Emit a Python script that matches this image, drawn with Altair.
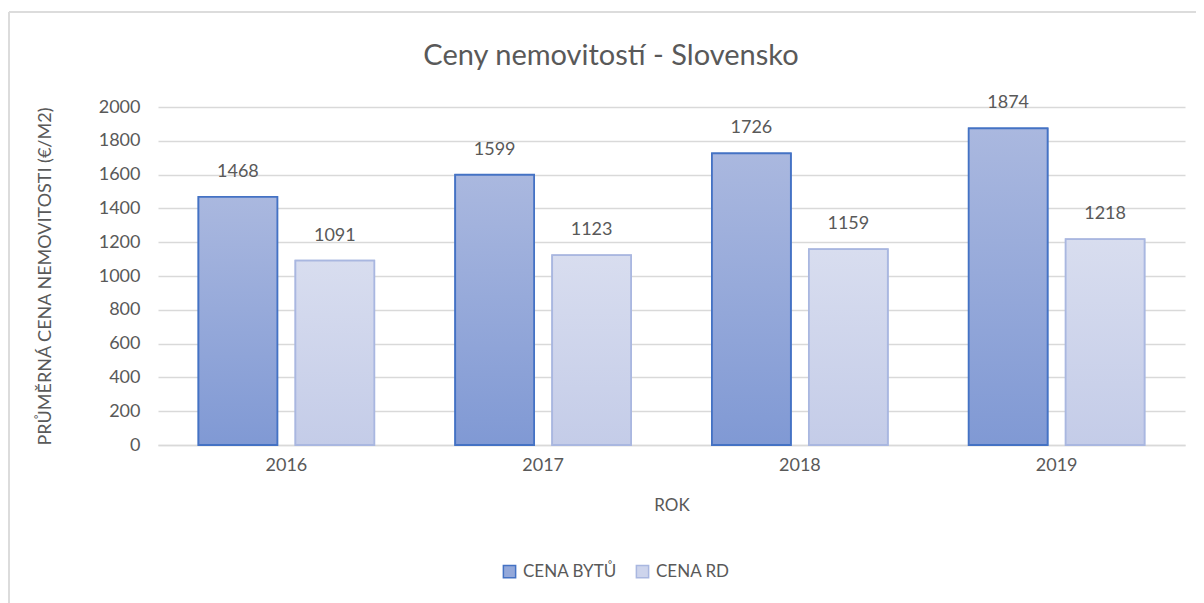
import altair as alt
import pandas as pd

years = ["2016", "2017", "2018", "2019"]
series = ["CENA BYTŮ", "CENA RD"]
cena_bytu = [1468, 1599, 1726, 1874]
cena_rd = [1091, 1123, 1159, 1218]
title_text = "Ceny nemovitostí - Slovensko"

rows = []
for i, y in enumerate(years):
    rows.append({"rok": y, "serie": series[0], "cena": cena_bytu[i]})
    rows.append({"rok": y, "serie": series[1], "cena": cena_rd[i]})
df = pd.DataFrame(rows)

FONT = "Lato"
GREY = "#595959"

x_enc = alt.X("rok:N", title="ROK",
              scale=alt.Scale(paddingInner=0.315, paddingOuter=0.1575),
              axis=alt.Axis(labelAngle=0, ticks=False, domain=True, domainColor="#D9D9D9",
                            domainWidth=1.5, labelPadding=11, labelFontSize=18,
                            labelFont=FONT, titleFont=FONT, labelColor=GREY, titleColor=GREY,
                            titleY=60, titleBaseline="middle", titleFontSize=17,
                            titleFontWeight="normal", grid=False))
xo_enc = alt.XOffset("serie:N", scale=alt.Scale(domain=series, paddingInner=0.186, paddingOuter=0))
y_enc = alt.Y("cena:Q", title="PRŮMĚRNÁ CENA NEMOVITOSTI (€/M2)",
              scale=alt.Scale(domain=[0, 2000], nice=False),
              axis=alt.Axis(values=list(range(0, 2001, 200)), format="d", ticks=False, domain=False,
                            gridColor="#D9D9D9", gridWidth=1.5, labelPadding=18,
                            labelFont=FONT, titleFont=FONT, labelColor=GREY, titleColor=GREY,
                            labelFontSize=18, titleX=-113, titleY=169, titleAngle=270,
                            titleAlign="center", titleBaseline="middle", titleFontSize=18,
                            titleFontWeight="normal"))

base = alt.Chart(df)

leg = dict(title=None, orient="none", legendX=343, legendY=456,
           direction="horizontal", symbolType="square",
           symbolSize=150, labelFontSize=17, labelColor=GREY,
           labelFont=FONT, columnPadding=16, labelOffset=5,
           symbolStrokeWidth=1.5)

legend_bars = base.mark_bar(strokeWidth=1.5).encode(
    x=x_enc, xOffset=xo_enc, y=y_enc,
    color=alt.Color("serie:N", scale=alt.Scale(domain=series, range=["#93A8DA", "#CDD4EC"]),
                    legend=alt.Legend(**leg)),
    stroke=alt.Stroke("serie:N", scale=alt.Scale(domain=series, range=["#4472C4", "#A9B7E0"]),
                      legend=alt.Legend(**leg)),
)

grad_bytu = alt.Gradient(gradient="linear", x1=0, x2=0, y1=0, y2=1,
                         stops=[alt.GradientStop(offset=0, color="#AAB8DF"),
                                alt.GradientStop(offset=1, color="#8099D4")])
grad_rd = alt.Gradient(gradient="linear", x1=0, x2=0, y1=0, y2=1,
                       stops=[alt.GradientStop(offset=0, color="#D8DDEF"),
                              alt.GradientStop(offset=1, color="#C4CCE8")])

bars_bytu = base.transform_filter(alt.datum.serie == series[0]).mark_bar(
    fill=grad_bytu, stroke="#4472C4", strokeWidth=1.8).encode(
    x=x_enc, xOffset=xo_enc, y=y_enc)
bars_rd = base.transform_filter(alt.datum.serie == series[1]).mark_bar(
    fill=grad_rd, stroke="#A9B7E0", strokeWidth=1.8).encode(
    x=x_enc, xOffset=xo_enc, y=y_enc)

labels = base.mark_text(dy=-16, fontSize=18, color=GREY, font=FONT, baseline="bottom").encode(
    x=x_enc, xOffset=xo_enc, y=y_enc, text=alt.Text("cena:Q", format="d"))

one = alt.Data(values=[{"a": 1}])
frame_left = alt.Chart(one).mark_rule(color="#DCDCDC", strokeWidth=2).encode(
    x=alt.value(-149), y=alt.value(-95), y2=alt.value(600))
frame_top = alt.Chart(one).mark_rule(color="#DCDCDC", strokeWidth=2).encode(
    x=alt.value(-149), x2=alt.value(1100), y=alt.value(-95))
title_mark = alt.Chart(alt.Data(values=[{"t": title_text}])).mark_text(
    fontSize=29, font=FONT, color=GREY, align="center", baseline="middle").encode(
    x=alt.value(453), y=alt.value(-51), text="t:N")

chart = alt.layer(frame_left, frame_top, title_mark, legend_bars, bars_bytu, bars_rd, labels).properties(
    width=1027, height=338,
    background="white",
    autosize=alt.AutoSizeParams(type="none"),
    padding={"left": 150, "top": 99, "right": 11, "bottom": 158},
).configure_view(stroke=None)

chart.save("out.html", embed_options={"renderer": "svg", "actions": False})
